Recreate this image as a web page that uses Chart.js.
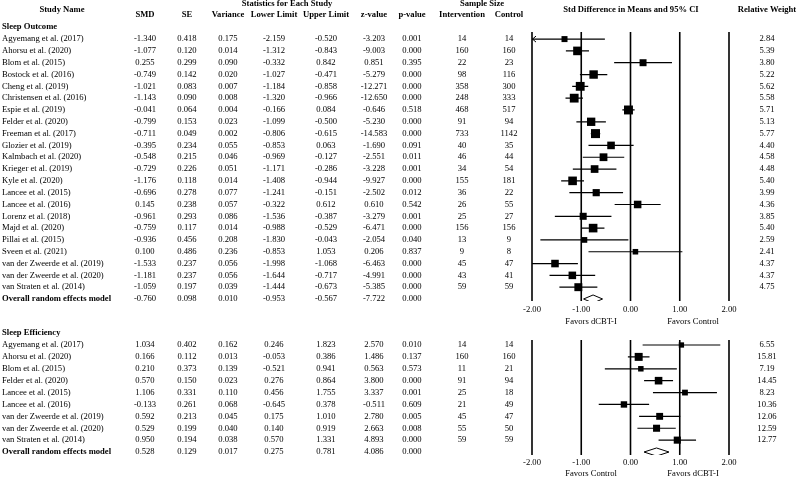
<!DOCTYPE html>
<html>
<head>
<meta charset="utf-8">
<script src="https://cdn.jsdelivr.net/npm/chart.js@4.4.1/dist/chart.umd.min.js"></script>
<style>
  body { margin: 0; background: #fff; }
  #wrap { position: relative; width: 798px; height: 478px; }
  canvas { position: absolute; left: 0; }
</style>
</head>
<body>
<div id="wrap">
  <canvas id="outcomeChart" width="798" height="328" style="top:0"></canvas>
  <canvas id="efficiencyChart" width="798" height="150" style="top:328px"></canvas>
</div>
<script>
// ---- data: sleep outcome ----
const outcomeStudies = [
  'Agyemang et al. (2017)', 'Ahorsu et al. (2020)', 'Blom et al. (2015)', 'Bostock et al. (2016)',
  'Cheng et al. (2019)', 'Christensen et al. (2016)', 'Espie et al. (2019)', 'Felder et al. (2020)',
  'Freeman et al. (2017)', 'Glozier et al. (2019)', 'Kalmbach et al. (2020)', 'Krieger et al. (2019)',
  'Kyle et al. (2020)', 'Lancee et al. (2015)', 'Lancee et al. (2016)', 'Lorenz et al. (2018)',
  'Majd et al. (2020)', 'Pillai et al. (2015)', 'Sveen et al. (2021)', 'van der Zweerde et al. (2019)',
  'van der Zweerde et al. (2020)', 'van Straten et al. (2014)',
];
const outcomeSMD = [-1.340, -1.077, 0.255, -0.749, -1.021, -1.143, -0.041, -0.799, -0.711, -0.395, -0.548,
  -0.729, -1.176, -0.696, 0.145, -0.961, -0.759, -0.936, 0.100, -1.533, -1.181, -1.059];
const outcomeSE = [0.418, 0.120, 0.299, 0.142, 0.083, 0.090, 0.064, 0.153, 0.049, 0.234, 0.215,
  0.226, 0.118, 0.278, 0.238, 0.293, 0.117, 0.456, 0.486, 0.237, 0.237, 0.197];
const outcomeVariance = [0.175, 0.014, 0.090, 0.020, 0.007, 0.008, 0.004, 0.023, 0.002, 0.055, 0.046,
  0.051, 0.014, 0.077, 0.057, 0.086, 0.014, 0.208, 0.236, 0.056, 0.056, 0.039];
const outcomeLower = [-2.159, -1.312, -0.332, -1.027, -1.184, -1.320, -0.166, -1.099, -0.806, -0.853, -0.969,
  -1.171, -1.408, -1.241, -0.322, -1.536, -0.988, -1.830, -0.853, -1.998, -1.644, -1.444];
const outcomeUpper = [-0.520, -0.843, 0.842, -0.471, -0.858, -0.966, 0.084, -0.500, -0.615, 0.063, -0.127,
  -0.286, -0.944, -0.151, 0.612, -0.387, -0.529, -0.043, 1.053, -1.068, -0.717, -0.673];
const outcomeZ = [-3.203, -9.003, 0.851, -5.279, -12.271, -12.650, -0.646, -5.230, -14.583, -1.690, -2.551,
  -3.228, -9.927, -2.502, 0.610, -3.279, -6.471, -2.054, 0.206, -6.463, -4.991, -5.385];
const outcomeP = [0.001, 0.000, 0.395, 0.000, 0.000, 0.000, 0.518, 0.000, 0.000, 0.091, 0.011,
  0.001, 0.000, 0.012, 0.542, 0.001, 0.000, 0.040, 0.837, 0.000, 0.000, 0.000];
const outcomeNIntervention = [14, 160, 22, 98, 358, 248, 468, 91, 733, 40, 46, 34, 155, 36, 26, 25, 156, 13, 9, 45, 43, 59];
const outcomeNControl = [14, 160, 23, 116, 300, 333, 517, 94, 1142, 35, 44, 54, 181, 22, 55, 27, 156, 9, 8, 47, 41, 59];
const outcomeWeight = [2.84, 5.39, 3.80, 5.22, 5.62, 5.58, 5.71, 5.13, 5.77, 4.40, 4.58,
  4.48, 5.40, 3.99, 4.36, 3.85, 5.40, 2.59, 2.41, 4.37, 4.37, 4.75];
// smd, se, variance, lower, upper, z, p
const outcomeOverall = [-0.760, 0.098, 0.010, -0.953, -0.567, -7.722, 0.000];

// ---- data: sleep efficiency ----
const efficiencyStudies = [
  'Agyemang et al. (2017)', 'Ahorsu et al. (2020)', 'Blom et al. (2015)', 'Felder et al. (2020)',
  'Lancee et al. (2015)', 'Lancee et al. (2016)', 'van der Zweerde et al. (2019)',
  'van der Zweerde et al. (2020)', 'van Straten et al. (2014)',
];
const efficiencySMD = [1.034, 0.166, 0.210, 0.570, 1.106, -0.133, 0.592, 0.529, 0.950];
const efficiencySE = [0.402, 0.112, 0.373, 0.150, 0.331, 0.261, 0.213, 0.199, 0.194];
const efficiencyVariance = [0.162, 0.013, 0.139, 0.023, 0.110, 0.068, 0.045, 0.040, 0.038];
const efficiencyLower = [0.246, -0.053, -0.521, 0.276, 0.456, -0.645, 0.175, 0.140, 0.570];
const efficiencyUpper = [1.823, 0.386, 0.941, 0.864, 1.755, 0.378, 1.010, 0.919, 1.331];
const efficiencyZ = [2.570, 1.486, 0.563, 3.800, 3.337, -0.511, 2.780, 2.663, 4.893];
const efficiencyP = [0.010, 0.137, 0.573, 0.000, 0.001, 0.609, 0.005, 0.008, 0.000];
const efficiencyNIntervention = [14, 160, 11, 91, 25, 21, 45, 55, 59];
const efficiencyNControl = [14, 160, 21, 94, 18, 49, 47, 50, 59];
const efficiencyWeight = [6.55, 15.81, 7.19, 14.45, 8.23, 10.36, 12.06, 12.59, 12.77];
const efficiencyOverall = [0.528, 0.129, 0.017, 0.275, 0.781, 4.086, 0.000];

// x axis ticks of the forest plot
const xTicks = [-2, -1, 0, 1, 2];

const FONT = '"Liberation Serif", "Times New Roman", serif';
const COL = { smd: 145, se: 187, variance: 228, lower: 274, upper: 326, z: 374, p: 412, nInt: 462, nCtrl: 509, weight: 767 };

function text(ctx, str, x, y, bold = false, align = 'center') {
  ctx.font = `${bold ? 'bold ' : ''}8.6px ${FONT}`;
  ctx.textAlign = align;
  ctx.textBaseline = 'middle';
  ctx.fillStyle = '#000';
  ctx.fillText(str, x, y);
}

const f3 = (v) => v.toFixed(3);

function makePlugin(panel) {
  return {
    id: 'forestTable',
    beforeDatasetsDraw(chart) {
      const { ctx, chartArea, scales } = chart;
      ctx.save();
      ctx.strokeStyle = '#000';
      ctx.lineWidth = 1.6;
      xTicks.forEach((t) => {
        const px = scales.x.getPixelForValue(t);
        ctx.beginPath();
        ctx.moveTo(px, chartArea.top);
        ctx.lineTo(px, chartArea.bottom);
        ctx.stroke();
      });
      ctx.restore();
    },
    afterDraw(chart) {
      const { ctx, chartArea, scales } = chart;
      const x = scales.x;
      const y = scales.y;
      ctx.save();

      if (panel.headers) {
        text(ctx, 'Study Name', 62, 10, true);
        text(ctx, 'Statistics for Each Study', 287, 4, true);
        text(ctx, 'SMD', COL.smd, 15, true);
        text(ctx, 'SE', COL.se, 15, true);
        text(ctx, 'Variance', COL.variance, 15, true);
        text(ctx, 'Lower Limit', COL.lower, 15, true);
        text(ctx, 'Upper Limit', COL.upper, 15, true);
        text(ctx, 'z-value', COL.z, 15, true);
        text(ctx, 'p-value', COL.p, 15, true);
        text(ctx, 'Sample Size', 482, 4, true);
        text(ctx, 'Intervention', COL.nInt, 15, true);
        text(ctx, 'Control', COL.nCtrl, 15, true);
        text(ctx, 'Std Difference in Means and 95% CI', 631, 10, true);
        text(ctx, 'Relative Weight', COL.weight, 10, true);
      }

      text(ctx, panel.title, 2, y.getPixelForValue(-1), true, 'left');

      panel.studies.forEach((name, i) => {
        const py = y.getPixelForValue(i);
        text(ctx, name, 2, py, false, 'left');
        text(ctx, f3(panel.smd[i]), COL.smd, py);
        text(ctx, f3(panel.se[i]), COL.se, py);
        text(ctx, f3(panel.variance[i]), COL.variance, py);
        text(ctx, f3(panel.lower[i]), COL.lower, py);
        text(ctx, f3(panel.upper[i]), COL.upper, py);
        text(ctx, f3(panel.z[i]), COL.z, py);
        text(ctx, f3(panel.p[i]), COL.p, py);
        text(ctx, String(panel.nInt[i]), COL.nInt, py);
        text(ctx, String(panel.nCtrl[i]), COL.nCtrl, py);
        text(ctx, panel.weight[i].toFixed(2), COL.weight, py);

        // arrow where the CI runs off the left of the axis
        if (panel.lower[i] < xTicks[0]) {
          const ax = x.getPixelForValue(xTicks[0]);
          ctx.strokeStyle = '#000';
          ctx.lineWidth = 1;
          ctx.beginPath();
          ctx.moveTo(ax + 4, py - 3);
          ctx.lineTo(ax + 0.5, py);
          ctx.lineTo(ax + 4, py + 3);
          ctx.stroke();
        }
      });

      const oy = y.getPixelForValue(panel.studies.length);
      const ov = panel.overall;
      text(ctx, 'Overall random effects model', 2, oy, true, 'left');
      [COL.smd, COL.se, COL.variance, COL.lower, COL.upper, COL.z, COL.p].forEach((cx, k) => {
        text(ctx, f3(ov[k]), cx, oy);
      });

      xTicks.forEach((t) => {
        text(ctx, t.toFixed(2), x.getPixelForValue(t), chartArea.bottom + panel.tickGap);
      });
      text(ctx, panel.favorsLeft, x.getPixelForValue(-0.8), chartArea.bottom + panel.favorsGap);
      text(ctx, panel.favorsRight, x.getPixelForValue(1.27), chartArea.bottom + panel.favorsGap);

      ctx.restore();
    },
  };
}

function buildForest(canvasId, panel) {
  const n = panel.studies.length;

  const squares = panel.smd.map((v, i) => ({ x: v, y: i }));
  const radii = panel.weight.map((w) => (panel.sizeBase + panel.sizeSlope * w) / Math.SQRT2);

  const ciLines = [];
  panel.lower.forEach((lo, i) => {
    ciLines.push({ x: Math.max(lo, xTicks[0]), y: i });
    ciLines.push({ x: panel.upper[i], y: i });
    ciLines.push({ x: panel.upper[i], y: null });
  });

  const ov = panel.overall;
  const diamond = [
    { x: ov[3], y: n },
    { x: ov[0], y: n - 0.34 },
    { x: ov[4], y: n },
    { x: ov[0], y: n + 0.34 },
    { x: ov[3], y: n },
  ];

  return new Chart(document.getElementById(canvasId), {
    type: 'scatter',
    data: {
      datasets: [
        {
          data: squares,
          pointStyle: 'rect',
          pointRadius: radii,
          pointBackgroundColor: '#000',
          pointBorderWidth: 0,
        },
        {
          data: diamond,
          showLine: true,
          borderColor: '#000',
          borderWidth: 1,
          pointRadius: 0,
          fill: false,
        },
        {
          data: ciLines,
          showLine: true,
          spanGaps: false,
          borderColor: '#000',
          borderWidth: 1.2,
          pointRadius: 0,
        },
      ],
    },
    options: {
      responsive: false,
      animation: false,
      layout: {
        padding: { left: 532, right: 69, top: panel.padTop, bottom: panel.padBottom },
      },
      scales: {
        x: { type: 'linear', min: xTicks[0], max: xTicks[xTicks.length - 1], display: false },
        y: { type: 'linear', min: panel.yMin, max: panel.yMax, reverse: true, display: false },
      },
      plugins: {
        legend: { display: false },
        tooltip: { enabled: false },
      },
    },
    plugins: [makePlugin(panel)],
  });
}

buildForest('outcomeChart', {
  headers: true,
  title: 'Sleep Outcome',
  studies: outcomeStudies,
  smd: outcomeSMD,
  se: outcomeSE,
  variance: outcomeVariance,
  lower: outcomeLower,
  upper: outcomeUpper,
  z: outcomeZ,
  p: outcomeP,
  nInt: outcomeNIntervention,
  nCtrl: outcomeNControl,
  weight: outcomeWeight,
  overall: outcomeOverall,
  favorsLeft: 'Favors dCBT-I',
  favorsRight: 'Favors Control',
  padTop: 32,
  padBottom: 27,
  yMin: -0.6,
  yMax: 22.17,
  tickGap: 9,
  favorsGap: 21,
  sizeBase: 3.1,
  sizeSlope: 1.02,
});

buildForest('efficiencyChart', {
  headers: false,
  title: 'Sleep Efficiency',
  studies: efficiencyStudies,
  smd: efficiencySMD,
  se: efficiencySE,
  variance: efficiencyVariance,
  lower: efficiencyLower,
  upper: efficiencyUpper,
  z: efficiencyZ,
  p: efficiencyP,
  nInt: efficiencyNIntervention,
  nCtrl: efficiencyNControl,
  weight: efficiencyWeight,
  overall: efficiencyOverall,
  favorsLeft: 'Favors Control',
  favorsRight: 'Favors dCBT-I',
  padTop: 12,
  padBottom: 23,
  yMin: -0.42,
  yMax: 9.25,
  tickGap: 8,
  favorsGap: 19,
  sizeBase: 3.4,
  sizeSlope: 0.29,
});
</script>
</body>
</html>
